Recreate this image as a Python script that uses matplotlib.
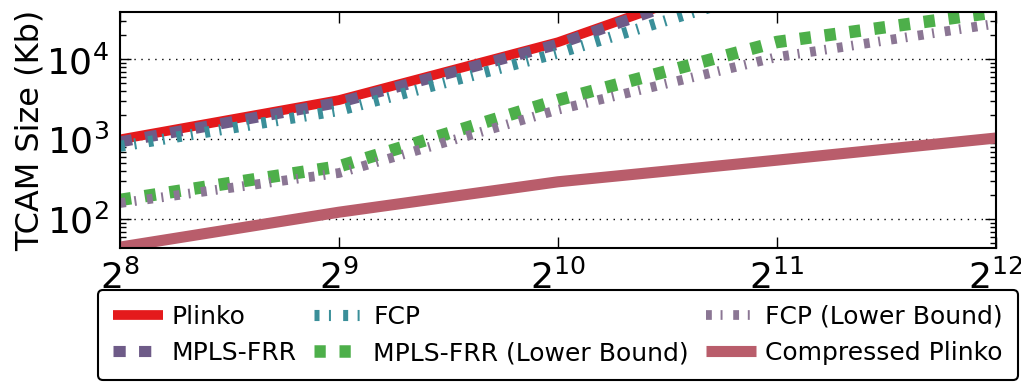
import numpy as np
import matplotlib
matplotlib.use("Agg")
import matplotlib.pyplot as plt

# número de nodos (eje x, log2) y tamaño TCAM en Kb por esquema
nodes = [2**8, 2**9, 2**10, 2**11, 2**12]
plinko = [1000, 3100, 16400, 150000, 1400000]
mpls_frr = [930, 2900, 15500, 140000, 1300000]
fcp = [820, 2300, 12000, 80000, 600000]
mpls_frr_lb = [175, 460, 3100, 16500, 39000]
fcp_lb = [160, 380, 2350, 10700, 28000]
compressed = [45, 123, 295, 550, 1040]

labels = ["Plinko", "MPLS-FRR", "FCP", "MPLS-FRR (Lower Bound)",
          "FCP (Lower Bound)", "Compressed Plinko"]

fig = plt.figure(figsize=(10.21, 3.83), dpi=100)
ax = fig.add_axes([0.1175, 0.3517, 0.858, 0.6178])

ax.plot(nodes, plinko, color="#e41a1c", lw=7, solid_capstyle="butt", label=labels[0])
ax.plot(nodes, mpls_frr, color="#6e5b88", lw=8, ls=(0, (1.1, 1.2)), label=labels[1])
ax.plot(nodes, fcp, color="#3a8f99", lw=8, ls=(0, (0.45, 0.85, 0.18, 1.1)), label=labels[2])
ax.plot(nodes, mpls_frr_lb, color="#4daf4a", lw=9, ls=(0, (0.9, 1.1)), label=labels[3])
ax.plot(nodes, fcp_lb, color="#8b7694", lw=7, ls=(0, (0.6, 0.9, 0.2, 1.1)), label=labels[4])
ax.plot(nodes, compressed, color="#b95d6b", lw=8, solid_capstyle="butt", label=labels[5])

ax.set_xscale("log", base=2)
ax.set_yscale("log")
ax.set_xlim(2**8, 2**12)
ax.set_ylim(43.5, 39500)

ax.set_ylabel("TCAM Size (Kb)", fontsize=23, labelpad=0)
ax.tick_params(which="both", direction="in", top=True, right=True, width=1)
ax.tick_params(which="major", length=8, labelsize=26, pad=8)
ax.tick_params(which="minor", length=4)
ax.yaxis.grid(True, which="major", ls=(0, (1, 4)), color="black", lw=1)
for s in ax.spines.values():
    s.set_linewidth(1.5)

leg = ax.legend(loc="upper center", bbox_to_anchor=(0.5, -0.175), ncol=3,
                fontsize=18, handlelength=2.0, handletextpad=0.35,
                columnspacing=0.7, labelspacing=0.5, borderpad=0.6,
                borderaxespad=0, fancybox=True, framealpha=1)
leg.get_frame().set_edgecolor("black")
leg.get_frame().set_linewidth(1.5)

fig.savefig("out.png", dpi=100)
